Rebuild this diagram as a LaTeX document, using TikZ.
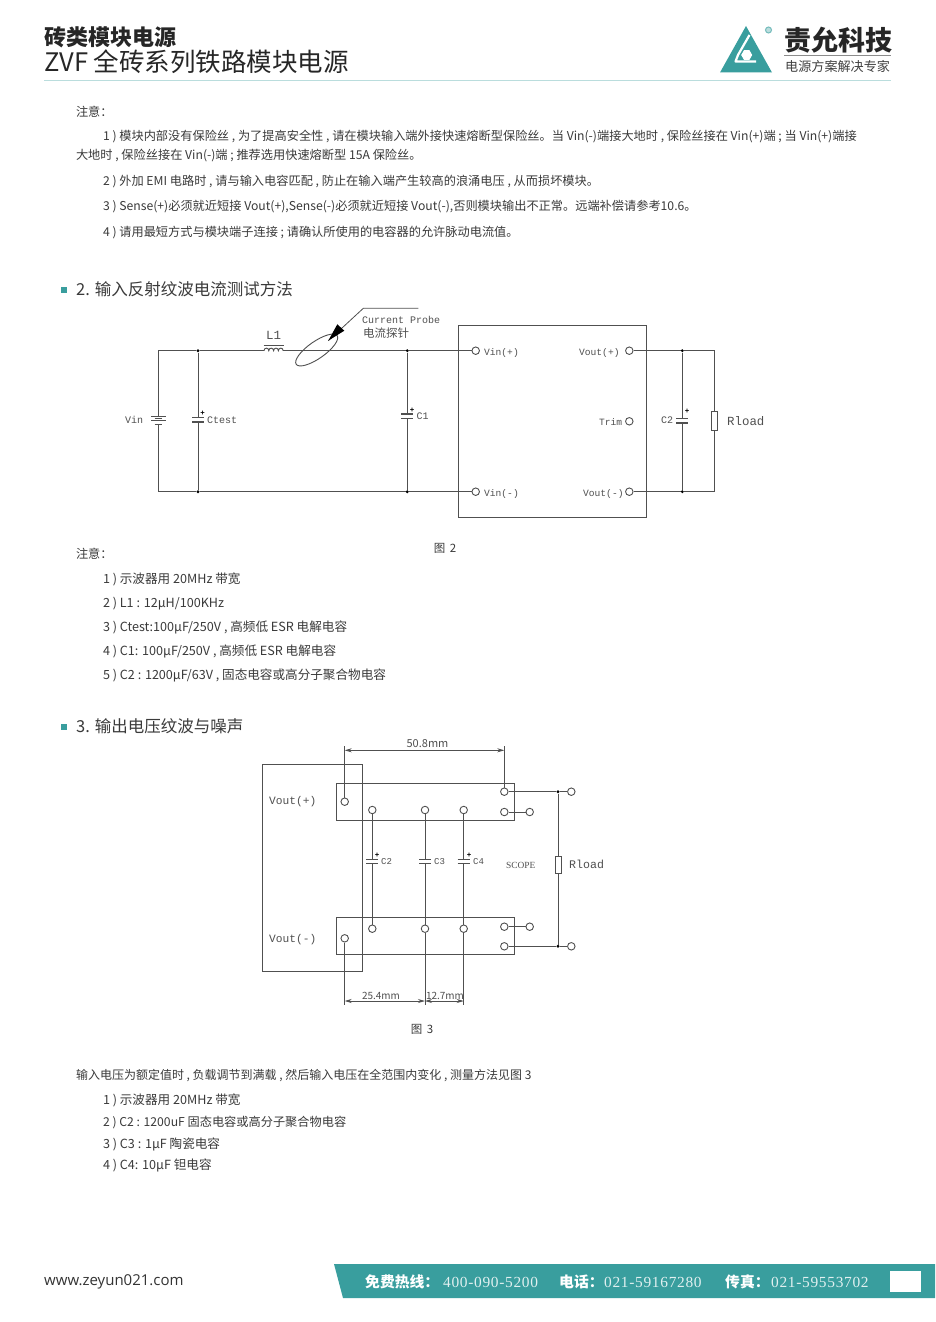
\documentclass[tikz,border=0pt]{standalone}
\usepackage{fontspec}
\setmainfont{Noto Sans CJK SC}
\newfontfamily\cirfont{Liberation Mono}
\newfontfamily\numfont{Liberation Serif}
\newfontfamily\footnum[LetterSpace=4.5]{Liberation Serif}
\newfontfamily\webfont{Open Sans}
\usetikzlibrary{shapes.geometric,arrows.meta,calc}
\definecolor{teal1}{HTML}{399E9E}
\definecolor{wirec}{HTML}{505050}
\definecolor{bodyc}{HTML}{3A3A3A}
\definecolor{circ}{HTML}{505050}
\newcommand{\fs}[1]{\fontsize{#1}{#1}\selectfont}
\tikzset{
 txt/.style={anchor=west,inner sep=0pt,outer sep=0pt,text=bodyc,yshift=-0.7pt,font=\fs{12.2}},
 ltxt/.style={txt,font=\fs{12.6}},
 head/.style={anchor=west,inner sep=0pt,text=bodyc,font=\fs{16.5}},
 bul/.style={fill=teal1,draw=none,minimum size=6pt,inner sep=0pt},
 ctxt/.style={anchor=west,inner sep=0pt,text=circ,font=\cirfont\fs{9.6}},
 wire/.style={draw=wirec,line width=0.9pt},
 thinw/.style={draw=wirec,line width=0.8pt},
 term/.style={circle,draw=wirec,line width=0.9pt,fill=white,minimum size=7.5pt,inner sep=0pt},
 jun/.style={circle,fill=black,minimum size=3.2pt,inner sep=0pt},
 modbox/.style={draw=wirec,line width=0.9pt},
 resbox/.style={rectangle,draw=wirec,line width=0.9pt,fill=white,minimum width=6pt,minimum height=18.5pt,inner sep=0pt},
 dimline/.style={draw=wirec,line width=0.8pt,{Stealth[length=7pt,width=4pt]}-{Stealth[length=7pt,width=4pt]}},
 plusn/.style={inner sep=0pt,text=black,font=\cirfont\bfseries\fs{7.5}},
 foot/.style={anchor=west,inner sep=0pt,text=white,font=\bfseries\fs{14.8}},
 footn/.style={anchor=west,inner sep=0pt,text=white!85!teal1,font=\footnum\fs{15.4}},
}
% vertical capacitor: name, x, y of upper plate, plate gap
\newcommand{\vcap}[4]{%
 \coordinate (#1-t) at (#2,#3);
 \coordinate (#1-b) at (#2,#3+#4);
 \draw[wire,line width=1.1pt] ($(#1-t)+(-6,0)$) -- ($(#1-t)+(6,0)$);
 \draw[wire,line width=1.1pt] ($(#1-b)+(-6,0)$) -- ($(#1-b)+(6,0)$);
}
\begin{document}
\begin{tikzpicture}[x=1pt,y=-1pt]
\useasboundingbox (0,0) rectangle (935,1322);
\fill[white] (0,0) rectangle (935,1322);

% ---------- header
\node[anchor=west,inner sep=0pt,text=black!85,font=\bfseries\fs{22}] (h1) at (44,37.5) {砖类模块电源};
\node[anchor=west,inner sep=0pt,text=black!85,font=\fs{25.5}] (h2) at (44,62) {ZVF 全砖系列铁路模块电源};
\fill[teal1!35] (44,80) rectangle (891,81);
% logo
\fill[teal1] (746,26) -- (772,72.5) -- (720,72.5) -- cycle;
\draw[white,line width=2.2pt,line join=round] (749.5,35) -- (738,55) -- (735.5,61.5) -- (756,61.5);
\node[regular polygon,regular polygon sides=6,fill=white,minimum size=11pt,inner sep=0pt] (loghex) at (746.7,55) {};
\node[circle,draw=teal1!70,line width=1pt,fill=teal1!35,minimum size=6pt,inner sep=0pt] (logreg) at (768.5,30) {};
\node[anchor=west,inner sep=0pt,text=black!85,font=\bfseries\fs{27}] (lg1) at (784,40.5) {责允科技};
\fill[black!45] (784,55.2) rectangle (891,55.8);
\node[anchor=west,inner sep=0pt,text=black!75,font=\fs{13.1}] (lg2) at (785,66.5) {电源方案解决专家};

% ---------- notes
\node[txt] (n0) at (76,111) {注意：};
\node[txt] (n1) at (103,136) {1 ) 模块内部没有保险丝 , 为了提高安全性 , 请在模块输入端外接快速熔断型保险丝。当 Vin(-)端接大地时 , 保险丝接在 Vin(+)端 ; 当 Vin(+)端接};
\node[txt] (n1b) at (76,155) {大地时 , 保险丝接在 Vin(-)端 ; 推荐选用快速熔断型 15A 保险丝。};
\node[txt] (n2) at (103,181) {2 ) 外加 EMI 电路时 , 请与输入电容匹配 , 防止在输入端产生较高的浪涌电压 , 从而损坏模块。};
\node[txt] (n3) at (103,206) {3 ) Sense(+)必须就近短接 Vout(+),Sense(-)必须就近短接 Vout(-),否则模块输出不正常。远端补偿请参考10.6。};
\node[txt] (n4) at (103,232) {4 ) 请用最短方式与模块端子连接 ; 请确认所使用的电容器的允许脉动电流值。};

\node[bul] (b2) at (64,290) {};
\node[head] (h2t) at (76,289) {2. 输入反射纹波电流测试方法};

% ---------- figure 2
\draw[modbox] (458,325) rectangle (646.3,517.3);
\coordinate (tl) at (158.3,350.7);
\coordinate (bl) at (158.3,491.7);
\coordinate (tr) at (714.7,350.7);
\coordinate (br) at (714.7,491.7);
\node[jun] (j1) at (198,350.7) {};
\node[jun] (j2) at (198,491.7) {};
\node[jun] (j3) at (407.3,350.7) {};
\node[jun] (j4) at (407.3,491.7) {};
\node[jun] (j5) at (682.3,350.7) {};
\node[jun] (j6) at (682.3,491.7) {};
\node[term] (vip) at (475.7,350.7) {};
\node[term] (vim) at (475.7,491.7) {};
\node[term] (vop) at (629.3,350.7) {};
\node[term] (vom) at (629.3,491.7) {};
\node[term] (trim) at (629.3,421.3) {};
\coordinate (lA) at (264,350.7);
\coordinate (lB) at (283.2,350.7);
% battery
\coordinate (bat-t) at (158.3,416.7);
\coordinate (bat-b) at (158.3,424.2);
\draw[wire] (tl) -- (bat-t);
\draw[wire] (bat-b) -- (bl);
\draw[wire] (151,416.7) -- (165.6,416.7);
\draw[wire] (154.5,418.7) -- (162,418.7);
\draw[wire] (151,420.7) -- (165.6,420.7);
\draw[wire] (154.5,424.2) -- (162,424.2);
\node[ctxt,font=\cirfont\fs{10}] (vin) at (125,420) {Vin};
% top and bottom rails
\draw[wire] (tl) -- (j1) -- (lA);
\draw[wire] (lB) -- (j3) -- (vip);
\draw[wire] (bl) -- (j2) -- (j4) -- (vim);
\draw[wire] (vop) -- (j5) -- (tr) -- (br) -- (j6) -- (vom);
% inductor
\draw[wire] (264,350.7) foreach \k in {0,1,2,3} {.. controls ($(lA)+(4.8*\k,-3.4)$) and ($(lA)+(4.8*\k+4.8,-3.4)$) .. ($(lA)+(4.8*\k+4.8,0)$)};
\draw[wire,line width=1.1pt] (263.5,345.8) -- (283.5,345.8);
\node[anchor=center,inner sep=0pt,text=circ,font=\cirfont\fs{12.5}] (l1) at (273.5,335.5) {L1};
% probe
\node[ellipse,draw=wirec,line width=0.9pt,minimum width=50pt,minimum height=17pt,inner sep=0pt,rotate=35] (probe) at (316.7,350) {};
\coordinate (pk) at (363.3,308.3);
\coordinate (pe) at (418.3,308.3);
\coordinate (ptip) at (328.3,340.7);
\draw[thinw] (pe) -- (pk) -- (ptip);
\fill[black] (ptip) -- (337.3,324.3) -- (344.3,330.7) -- cycle;
\node[ctxt,font=\cirfont\fs{10}] (cp) at (362,320) {Current Probe};
\node[anchor=west,inner sep=0pt,text=circ,font=\fs{11.5}] (cpz) at (363,333) {电流探针};
% capacitors
\vcap{ct}{198}{417.3}{4.7}
\draw[wire] (j1) -- (ct-t); \draw[wire] (ct-b) -- (j2);
\node[plusn] (ctp) at (202.5,413) {+};
\node[ctxt,font=\cirfont\fs{10}] (ctl) at (207,420) {Ctest};
\vcap{ca}{407.3}{414}{4.7}
\draw[wire] (j3) -- (ca-t); \draw[wire] (ca-b) -- (j4);
\node[plusn] (cap) at (412,410) {+};
\node[ctxt,font=\cirfont\fs{10}] (cal) at (416.5,416.5) {C1};
\vcap{cb}{682.3}{418.3}{4.7}
\draw[wire] (j5) -- (cb-t); \draw[wire] (cb-b) -- (j6);
\node[plusn] (cbp) at (687,411.5) {+};
\node[ctxt,font=\cirfont\fs{10}] (cbl) at (661,420.5) {C2};
\node[resbox] (r1) at (714.7,421) {};
\node[ctxt,font=\cirfont\fs{12.4}] (rl1) at (727,421) {Rload};
\node[ctxt] (lvip) at (484,353.5) {Vin(+)};
\node[ctxt] (lvim) at (484,494) {Vin(-)};
\node[ctxt] (lvop) at (579,353.5) {Vout(+)};
\node[ctxt] (lvom) at (583,494.5) {Vout(-)};
\node[ctxt] (ltrim) at (599,421.7) {Trim};
\node[anchor=center,inner sep=0pt,text=bodyc,font=\fs{11.5}] (f2) at (445,548) {图 \kern2pt 2};

% ---------- list 2
\node[txt] (a0) at (76,553) {注意：};
\node[ltxt] (a1) at (103,578.5) {1 ) 示波器用 20MHz 带宽};
\node[ltxt] (a2) at (103,603) {2 ) L1 : 12μH/100KHz};
\node[ltxt] (a3) at (103,627) {3 ) Ctest:100μF/250V , 高频低 ESR 电解电容};
\node[ltxt] (a4) at (103,651) {4 ) C1: 100μF/250V , 高频低 ESR 电解电容};
\node[ltxt] (a5) at (103,675) {5 ) C2 : 1200μF/63V ,  固态电容或高分子聚合物电容};

\node[bul] (b3) at (64,726.5) {};
\node[head] (h3t) at (76,726) {3. 输出电压纹波与噪声};

% ---------- figure 3
\draw[modbox] (262.7,764.3) rectangle (362.3,971.7);
\draw[modbox] (336.3,783.3) rectangle (514,820.7);
\draw[modbox] (336.3,917.3) rectangle (514,954.3);
\node[term] (t1) at (344.7,801.7) {};
\node[term] (t2) at (372.3,810) {};
\node[term] (t3) at (425,810) {};
\node[term] (t4) at (463.7,810) {};
\node[term] (t5) at (504.3,791.7) {};
\node[term] (t6) at (504.3,812) {};
\node[term] (t7) at (529.7,812) {};
\node[term] (t8) at (571.3,791.7) {};
\node[jun] (j7) at (558,791.7) {};
\node[term] (u1) at (344.7,938.3) {};
\node[term] (u2) at (372.3,928.7) {};
\node[term] (u3) at (425,928.7) {};
\node[term] (u4) at (463.7,928.7) {};
\node[term] (u5) at (504.3,926.7) {};
\node[term] (u6) at (529.7,926.7) {};
\node[term] (u7) at (504.3,946.3) {};
\node[term] (u8) at (571.3,946.3) {};
\node[jun] (j8) at (558,946.3) {};
\draw[wire] (t5) -- (j7) -- (t8);
\draw[wire] (t6) -- (t7);
\draw[wire] (u5) -- (u6);
\draw[wire] (u7) -- (j8) -- (u8);
\draw[wire] (j7) -- (j8);
\node[resbox,minimum height=17.5pt] (r2) at (558,864.8) {};
\vcap{c2}{372.3}{859.3}{4.4}
\draw[wire] (t2) -- (c2-t); \draw[wire] (c2-b) -- (u2);
\vcap{c3}{425}{859.3}{4.4}
\draw[wire] (t3) -- (c3-t); \draw[wire] (c3-b) -- (u3);
\vcap{c4}{463.7}{859.3}{4.4}
\draw[wire] (t4) -- (c4-t); \draw[wire] (c4-b) -- (u4);
\node[plusn] (p2) at (377,855) {+};
\node[plusn] (p4) at (469,855) {+};
\node[ctxt,font=\cirfont\fs{9}] (lc2) at (381,862) {C2};
\node[ctxt,font=\cirfont\fs{9}] (lc3) at (434,862) {C3};
\node[ctxt,font=\cirfont\fs{9}] (lc4) at (473,862) {C4};
\node[ctxt,font=\numfont\fs{9.4}] (lsc) at (506,865) {SCOPE};
\node[ctxt,font=\cirfont\fs{11.6}] (rl2) at (569,864.5) {Rload};
\node[ctxt,font=\cirfont\fs{11.2}] (lv1) at (269,801.5) {Vout(+)};
\node[ctxt,font=\cirfont\fs{11.2}] (lv2) at (269,940) {Vout(-)};
% dimensions
\coordinate (da) at (344.7,745.7);
\coordinate (db) at (504.3,745.7);
\coordinate (da2) at (344.7,750.3);
\coordinate (db2) at (504.3,750.3);
\draw[thinw] (t1) -- (da);
\draw[thinw] (t5) -- (db);
\draw[dimline] (da2) -- (db2);
\node[anchor=center,inner sep=0pt,text=circ,font=\fs{11}] (d1) at (427.5,744) {50.8mm};
\coordinate (ea) at (344.7,1005);
\coordinate (eb) at (425,1005);
\coordinate (ec) at (463.7,1005);
\coordinate (ea2) at (344.7,1001);
\coordinate (eb2) at (425,1001);
\coordinate (ec2) at (463.7,1001);
\draw[thinw] (u1) -- (ea);
\draw[thinw] (u3) -- (eb);
\draw[thinw] (u4) -- (ec);
\draw[dimline] (ea2) -- (eb2);
\draw[dimline] (eb2) -- (ec2);
\node[anchor=center,inner sep=0pt,text=circ,font=\fs{10}] (d2) at (381,995.5) {25.4mm};
\node[anchor=center,inner sep=0pt,text=circ,font=\fs{10}] (d3) at (445,995.5) {12.7mm};
\node[anchor=center,inner sep=0pt,text=bodyc,font=\fs{11.5}] (f3) at (422,1029) {图 \kern2pt 3};

% ---------- list 3
\node[txt,font=\fs{12}] (c0) at (76,1075) {输入电压为额定值时 , 负载调节到满载 , 然后输入电压在全范围内变化 , 测量方法见图 3};
\node[ltxt] (c1) at (103,1100) {1 ) 示波器用 20MHz 带宽};
\node[txt] (c2t) at (103,1122) {2 ) C2 : 1200uF 固态电容或高分子聚合物电容};
\node[ltxt] (c3t) at (103,1143.5) {3 ) C3 : 1μF 陶瓷电容};
\node[ltxt] (c4t) at (103,1165) {4 ) C4: 10μF 钽电容};

% ---------- footer
\node[anchor=west,inner sep=0pt,text=black!80,font=\webfont\fs{15}] (web) at (44,1282) {www.zeyun021.com};
\fill[teal1] (334,1264) -- (935,1264) -- (935,1298) -- (343,1298) -- cycle;
\node[foot] (f1a) at (365,1282) {免费热线：};
\node[footn] (f1b) at (443,1282) {400-090-5200};
\node[foot] (f2a) at (559,1282) {电话：};
\node[footn] (f2b) at (604,1282) {021-59167280};
\node[foot] (f3a) at (725,1282) {传真：};
\node[footn] (f3b) at (771,1282) {021-59553702};
\fill[white] (889.5,1271) rectangle (921,1292);
\end{tikzpicture}
\end{document}
